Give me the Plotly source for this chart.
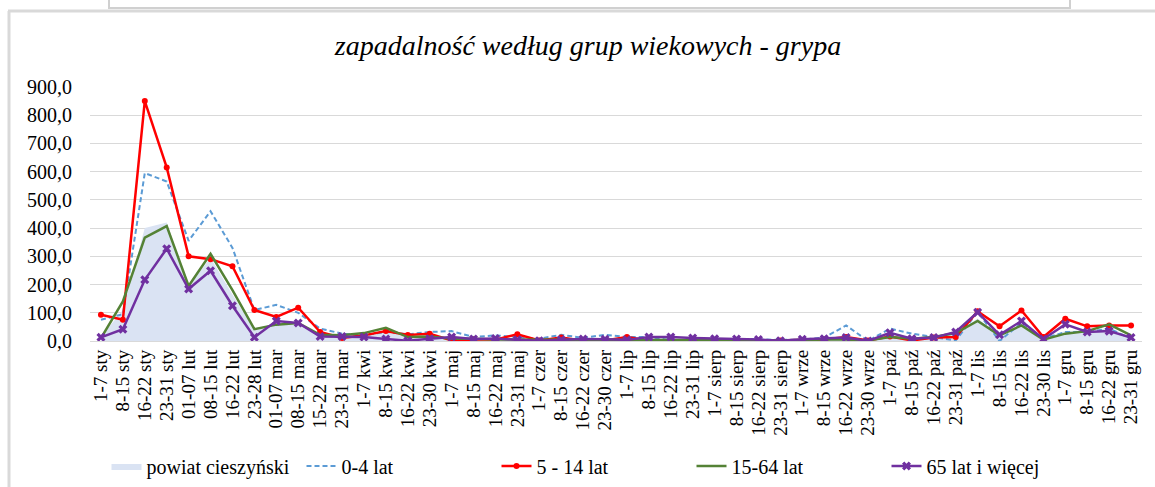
import plotly.graph_objects as go

categories = [
    "1-7 sty", "8-15 sty", "16-22 sty", "23-31 sty",
    "01-07 lut", "08-15 lut", "16-22 lut", "23-28 lut",
    "01-07 mar", "08-15 mar", "15-22 mar", "23-31 mar",
    "1-7 kwi", "8-15 kwi", "16-22 kwi", "23-30 kwi",
    "1-7 maj", "8-15 maj", "16-22 maj", "23-31 maj",
    "1-7 czer", "8-15 czer", "16-22 czer", "23-30 czer",
    "1-7 lip", "8-15 lip", "16-22 lip", "23-31 lip",
    "1-7 sierp", "8-15 sierp", "16-22 sierp", "23-31 sierp",
    "1-7 wrze", "8-15 wrze", "16-22 wrze", "23-30 wrze",
    "1-7 paź", "8-15 paź", "16-22 paź", "23-31 paź",
    "1-7 lis", "8-15 lis", "16-22 lis", "23-30 lis",
    "1-7 gru", "8-15 gru", "16-22 gru", "23-31 gru",
]

powiat = [15, 110, 400, 420, 195, 295, 165, 40, 65, 60, 20, 18, 22, 35, 12, 15,
          12, 6, 6, 8, 3, 4, 4, 5, 5, 5, 6, 5, 4, 4, 3, 2,
          4, 6, 10, 2, 20, 8, 12, 28, 80, 18, 60, 8, 35, 38, 45, 15]
age_0_4 = [75, 95, 595, 565, 355, 460, 330, 110, 128, 100, 44, 26, 20, 32, 24, 32,
           35, 14, 20, 14, 8, 22, 11, 22, 14, 14, 3, 2, 2, 8, 5, 4,
           5, 12, 55, 0, 44, 26, 14, 2, 102, 0, 64, 8, 32, 32, 44, 8]
age_5_14 = [93, 75, 850, 615, 300, 290, 265, 110, 85, 118, 32, 11, 20, 35, 21, 26,
            2, 5, 5, 24, 2, 12, 1, 2, 14, 1, 1, 2, 2, 2, 1, 2,
            3, 5, 14, 2, 16, 2, 12, 14, 105, 52, 108, 14, 79, 52, 55, 55]
age_15_64 = [10, 140, 366, 407, 195, 309, 180, 42, 58, 64, 22, 20, 28, 47, 14, 16,
             8, 8, 5, 5, 3, 4, 4, 4, 5, 4, 4, 3, 3, 3, 3, 2,
             4, 5, 5, 2, 14, 8, 14, 28, 71, 20, 55, 5, 26, 35, 59, 20]
age_65 = [13, 42, 217, 327, 184, 249, 125, 13, 71, 64, 16, 16, 14, 7, 1, 8,
          14, 7, 9, 4, 1, 4, 7, 6, 4, 14, 14, 11, 8, 7, 5, 1,
          6, 8, 12, 0, 29, 8, 12, 32, 102, 22, 71, 7, 59, 32, 35, 12]

y_ticks = [0, 100, 200, 300, 400, 500, 600, 700, 800, 900]
y_tick_labels = ["0,0", "100,0", "200,0", "300,0", "400,0", "500,0", "600,0", "700,0", "800,0", "900,0"]

SERIF = "Liberation Serif"

fig = go.Figure()
fig.add_trace(go.Scatter(
    x=categories, y=powiat, name="powiat cieszyński", mode="lines",
    line=dict(width=0, color="#dae3f3"), fill="tozeroy", fillcolor="#dae3f3",
))
fig.add_trace(go.Scatter(
    x=categories, y=age_0_4, name="0-4 lat", mode="lines",
    line=dict(color="#5b9bd5", width=2, dash="5px,3px"),
))
fig.add_trace(go.Scatter(
    x=categories, y=age_5_14, name="5 - 14 lat", mode="lines+markers",
    line=dict(color="#ff0000", width=2.5),
    marker=dict(symbol="circle", size=6, color="#ff0000"),
))
fig.add_trace(go.Scatter(
    x=categories, y=age_15_64, name="15-64 lat", mode="lines",
    line=dict(color="#548235", width=2.5),
))
fig.add_trace(go.Scatter(
    x=categories, y=age_65, name="65 lat i więcej", mode="lines+markers",
    line=dict(color="#7030a0", width=2.5),
    marker=dict(symbol="x", size=8, color="#7030a0"),
))

L, R, T, B = 90, 13, 87, 146
W, H = 1155, 487
pw, ph = W - L - R, H - T - B

def px(x):
    return (x - L) / pw

def py(y):
    return (H - B - y) / ph

shapes = [
    dict(type="line", xref="paper", yref="paper", x0=px(9), x1=px(9), y0=py(11), y1=py(490),
         line=dict(color="#d9d9d9", width=3)),
    dict(type="line", xref="paper", yref="paper", x0=px(8), x1=px(1160), y0=py(11), y1=py(11),
         line=dict(color="#d9d9d9", width=3)),
    dict(type="rect", xref="paper", yref="paper", x0=px(109), x1=px(1070), y0=py(-10), y1=py(8),
         line=dict(color="#d0d0d0", width=2), fillcolor="white"),
]

fig.update_layout(
    width=W, height=H,
    margin=dict(l=L, r=R, t=T, b=B),
    paper_bgcolor="white", plot_bgcolor="white",
    title=dict(text="<i>zapadalność według grup wiekowych - grypa</i>",
               x=(588) / W, xanchor="center", y=1 - 45 / H, yanchor="middle",
               font=dict(family=SERIF, size=28, color="#000000")),
    showlegend=True,
    legend=dict(orientation="h", x=px(594), xanchor="center",
                yref="container", y=1 - 466 / H, yanchor="middle",
                font=dict(family=SERIF, size=20, color="#000000"),
                entrywidth=150, entrywidthmode="pixels",
                traceorder="normal"),
    shapes=shapes,
    xaxis=dict(type="category", range=[-0.5, 47.5], tickangle=-90,
               tickmode="array", tickvals=categories, ticktext=categories,
               tickfont=dict(family=SERIF, size=19, color="#000000"),
               showgrid=False, showline=False, ticks="", zeroline=False,
               ticklabelstandoff=4, automargin=False),
    yaxis=dict(range=[0, 900], tickvals=y_ticks, ticktext=y_tick_labels,
               tickfont=dict(family=SERIF, size=20, color="#000000"),
               showgrid=True, gridcolor="#d9d9d9", gridwidth=1, zeroline=True,
               zerolinecolor="#d9d9d9", zerolinewidth=1, showline=False, ticks="",
               ticklabelstandoff=17, automargin=False),
)

fig.write_html("out.html", config={"displayModeBar": False},
               post_script="document.body.style.margin='0';")
